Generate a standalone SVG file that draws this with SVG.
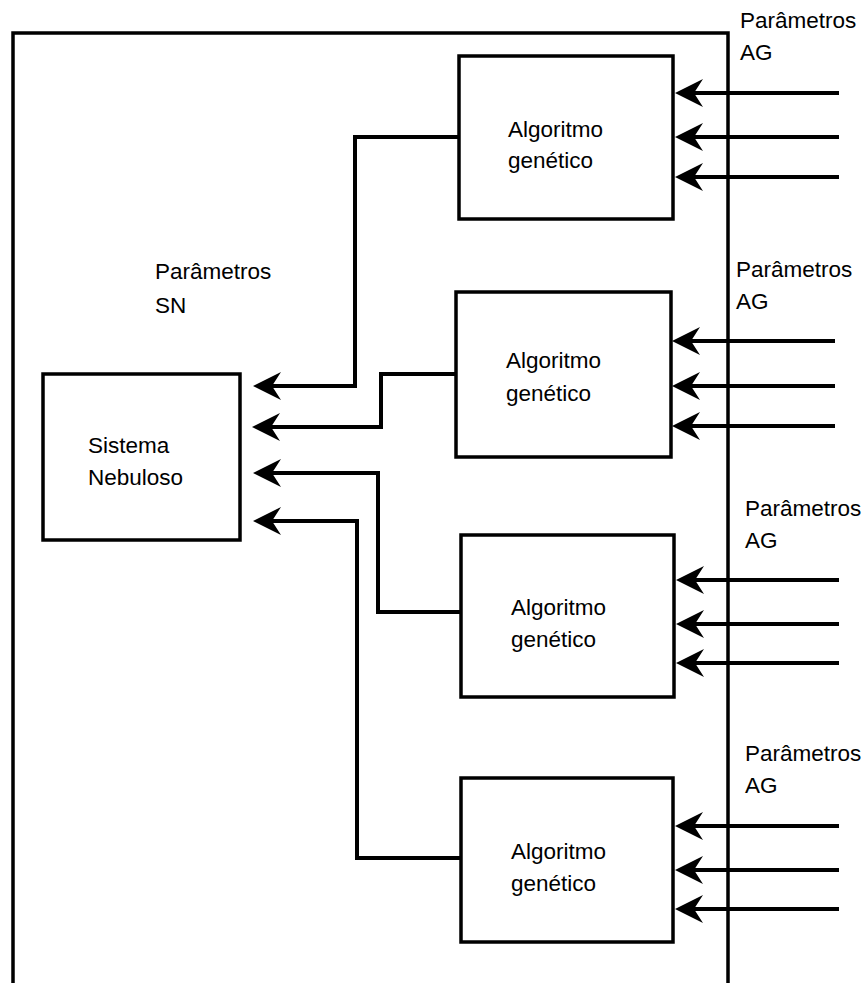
<svg xmlns="http://www.w3.org/2000/svg" width="866" height="983" viewBox="0 0 866 983">
  <style>
    .box { fill: #ffffff; stroke: #000000; stroke-width: 3.5; }
    .frame { fill: none; stroke: #000000; stroke-width: 3.5; }
    .wire { fill: none; stroke: #000000; stroke-width: 4; marker-end: url(#head); }
    .lbl { font-family: "Liberation Sans", Arial, Helvetica, sans-serif; font-size: 22.5px; fill: #000000; }
  </style>
  <defs>
    <marker id="head" markerUnits="userSpaceOnUse" markerWidth="30" markerHeight="30" viewBox="0 -15 30 30" refX="9" refY="0" orient="auto" overflow="visible">
      <path d="M28,0 L0,-14 L9,0 L0,14 Z" fill="#000000"/>
    </marker>
  </defs>

  <!-- enclosing frame -->
  <path class="frame" d="M13,983 V33 H728 V983"/>

  <g id="sistema-nebuloso">
    <rect class="box" x="43" y="374" width="197" height="166"/>
    <text class="lbl" x="88" y="453">Sistema</text>
    <text class="lbl" x="88" y="485">Nebuloso</text>
  </g>

  <g id="parametros-sn">
    <text class="lbl" x="155" y="279">Parâmetros</text>
    <text class="lbl" x="155" y="313">SN</text>
  </g>

  <g id="ag-1">
    <rect class="box" x="459" y="56" width="214" height="163"/>
    <text class="lbl" x="508" y="137">Algoritmo</text>
    <text class="lbl" x="508" y="168">genético</text>
  </g>
  <g id="ag-2">
    <rect class="box" x="456" y="292" width="215" height="165"/>
    <text class="lbl" x="506" y="368">Algoritmo</text>
    <text class="lbl" x="506" y="401">genético</text>
  </g>
  <g id="ag-3">
    <rect class="box" x="461" y="535" width="213" height="162"/>
    <text class="lbl" x="511" y="615">Algoritmo</text>
    <text class="lbl" x="511" y="647">genético</text>
  </g>
  <g id="ag-4">
    <rect class="box" x="461" y="778" width="212" height="164"/>
    <text class="lbl" x="511" y="859">Algoritmo</text>
    <text class="lbl" x="511" y="891">genético</text>
  </g>

  <g id="parametros-ag-1">
    <text class="lbl" x="740" y="28">Parâmetros</text>
    <text class="lbl" x="740" y="60">AG</text>
  </g>
  <g id="parametros-ag-2">
    <text class="lbl" x="736" y="277">Parâmetros</text>
    <text class="lbl" x="736" y="309">AG</text>
  </g>
  <g id="parametros-ag-3">
    <text class="lbl" x="745" y="516">Parâmetros</text>
    <text class="lbl" x="745" y="548">AG</text>
  </g>
  <g id="parametros-ag-4">
    <text class="lbl" x="745" y="761">Parâmetros</text>
    <text class="lbl" x="745" y="793">AG</text>
  </g>

  <g id="connectors">
    <!-- GA outputs to the fuzzy system -->
    <path class="wire" d="M459,137 H355 V386 H272"/>
    <path class="wire" d="M456,374 H381 V427 H271"/>
    <path class="wire" d="M461,612 H378 V473 H272"/>
    <path class="wire" d="M461,858 H357 V521 H272"/>

    <!-- GA parameter inputs -->
    <path class="wire" d="M839,93 H694"/>
    <path class="wire" d="M839,137 H694"/>
    <path class="wire" d="M839,177 H694"/>

    <path class="wire" d="M835,341 H691"/>
    <path class="wire" d="M835,386 H691"/>
    <path class="wire" d="M835,426 H691"/>

    <path class="wire" d="M839,580 H695"/>
    <path class="wire" d="M839,624 H695"/>
    <path class="wire" d="M839,663 H695"/>

    <path class="wire" d="M839,826 H694"/>
    <path class="wire" d="M839,870 H694"/>
    <path class="wire" d="M839,909 H694"/>
  </g>
</svg>
